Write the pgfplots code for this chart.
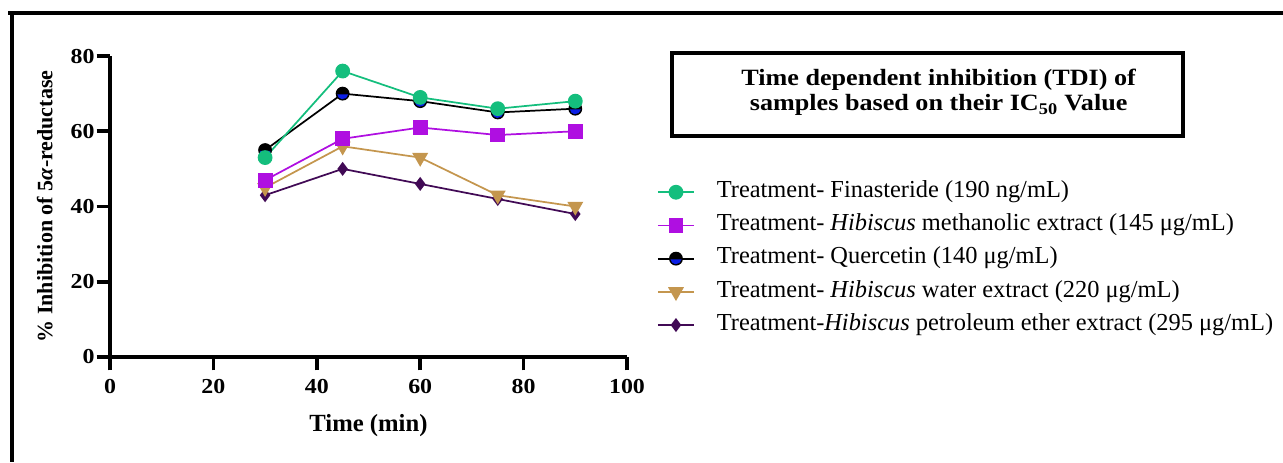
\documentclass[border=0pt]{standalone}
\usepackage{fontspec}
\setmainfont{Liberation Serif}
\usepackage{graphicx}
\usepackage{pgfplots}
\pgfplotsset{compat=1.18}

\definecolor{fgreen}{RGB}{20,190,125}
\definecolor{fmag}{RGB}{175,15,225}
\definecolor{ftan}{RGB}{196,150,78}
\definecolor{fpur}{RGB}{65,10,85}
\definecolor{qblue}{RGB}{10,30,230}

\newcommand\sx[1]{\scalebox{1.12}[1]{#1}}

\pgfdeclareplotmark{bbcircle}{%
  \pgfpathcircle{\pgfpoint{0pt}{0pt}}{\pgfplotmarksize}%
  \pgfsetfillcolor{black}\pgfusepathqfill
  \pgfpathmoveto{\pgfpoint{-0.8\pgfplotmarksize}{-0.1\pgfplotmarksize}}%
  \pgfpathlineto{\pgfpoint{0.8\pgfplotmarksize}{-0.1\pgfplotmarksize}}%
  \pgfpatharc{-7}{-173}{0.8\pgfplotmarksize}%
  \pgfpathclose
  \pgfsetfillcolor{qblue}\pgfusepathqfill
}

\begin{document}
\begin{tikzpicture}
\path[use as bounding box] (0pt,0pt) rectangle (962.25pt,346.5pt);
% outer frame (top and left)
\draw[line width=2.3pt] (6pt,336.75pt) -- (962.25pt,336.75pt);
\draw[line width=2.3pt] (9pt,336.75pt) -- (9pt,0pt);
% title box
\draw[line width=3pt] (504pt,306.75pt) rectangle (887.25pt,244.5pt);
\node[align=center, font=\bfseries\fontsize{17.5}{18.75}\selectfont] at (704pt,277pt)
  {\sx{Time dependent inhibition (TDI) of}\\\sx{samples based on their IC\textsubscript{50} Value}};

\begin{axis}[
  at={(82.5pt,78.75pt)}, anchor=south west,
  scale only axis, width=387.75pt, height=225.75pt,
  xmin=0, xmax=100, ymin=0, ymax=80,
  axis lines=left,
  axis line style={line width=3pt, -},
  xtick={0,20,...,100}, ytick={0,20,...,80},
  tick align=outside, major tick length=10pt,
  tick style={line width=2.8pt, black},
  xticklabel={\sx{\pgfmathprintnumber[assume math mode=true]{\tick}}},
  yticklabel={\sx{\pgfmathprintnumber[assume math mode=true]{\tick}}},
  tick label style={font=\bfseries\fontsize{16}{18}\selectfont},
  xticklabel style={yshift=-3pt},
  yticklabel style={xshift=2pt},
  xlabel={Time (min)},
  ylabel={\% Inhibition of 5\textit{α}-reductase},
  xlabel style={font=\bfseries\fontsize{18.5}{20}\selectfont, at={(rel axis cs:0.5,-0.229)}, anchor=center},
  ylabel style={font=\bfseries\fontsize{16.5}{18}\selectfont, at={(rel axis cs:-0.126,0.5)}, anchor=center},
  clip=false,
  legend cell align=left,
  legend style={at={(rel axis cs:1.05,0.597)}, anchor=north west, draw=none, fill=none,
    font=\fontsize{18.3}{20}\selectfont,
    nodes={inner sep=0pt, text height=13pt, text depth=5pt},
    row sep=6.9pt,
    /tikz/every odd column/.append style={column sep=16.5pt}},
  legend image code/.code={\draw[mark repeat=2, mark phase=2] plot coordinates {(0pt,0pt) (13.5pt,0pt) (27pt,0pt)};},
]
% plots in z-order
\addplot[fpur, line width=1.3pt, mark=diamond*, mark size=4.2pt, mark options={fill=fpur}, forget plot]
  coordinates {(30,43) (45,50) (60,46) (75,42) (90,38)};
\addplot[ftan, line width=1.3pt, mark=triangle*, mark size=5.6pt, mark options={rotate=180, fill=ftan}, forget plot]
  coordinates {(30,45) (45,56) (60,53) (75,43) (90,40)};
\addplot[fmag, line width=1.3pt, mark=square*, mark size=4.9pt, mark options={fill=fmag}, forget plot]
  coordinates {(30,47) (45,58) (60,61) (75,59) (90,60)};
\addplot[black, line width=1.3pt, mark=bbcircle, mark size=5.2pt, forget plot]
  coordinates {(30,55) (45,70) (60,68) (75,65) (90,66)};
\addplot[fgreen, line width=1.3pt, mark=*, mark size=4.9pt, mark options={fill=fgreen}, forget plot]
  coordinates {(30,53) (45,76) (60,69) (75,66) (90,68)};
% legend
\addlegendimage{fgreen, line width=1.3pt, mark=*, mark size=4.9pt, mark options={fill=fgreen}}
\addlegendentry{Treatment- Finasteride (190 ng/mL)}
\addlegendimage{fmag, line width=1.3pt, mark=square*, mark size=4.9pt, mark options={fill=fmag}}
\addlegendentry{Treatment- \textit{Hibiscus} methanolic extract (145 μg/mL)}
\addlegendimage{black, line width=1.3pt, mark=bbcircle, mark size=5.2pt}
\addlegendentry{Treatment- Quercetin (140 μg/mL)}
\addlegendimage{ftan, line width=1.3pt, mark=triangle*, mark size=5.6pt, mark options={rotate=180, fill=ftan}}
\addlegendentry{Treatment- \textit{Hibiscus} water extract (220 μg/mL)}
\addlegendimage{fpur, line width=1.3pt, mark=diamond*, mark size=4.2pt, mark options={fill=fpur}}
\addlegendentry{Treatment-\textit{Hibiscus} petroleum ether extract (295 μg/mL)}
\end{axis}
\end{tikzpicture}
\end{document}
